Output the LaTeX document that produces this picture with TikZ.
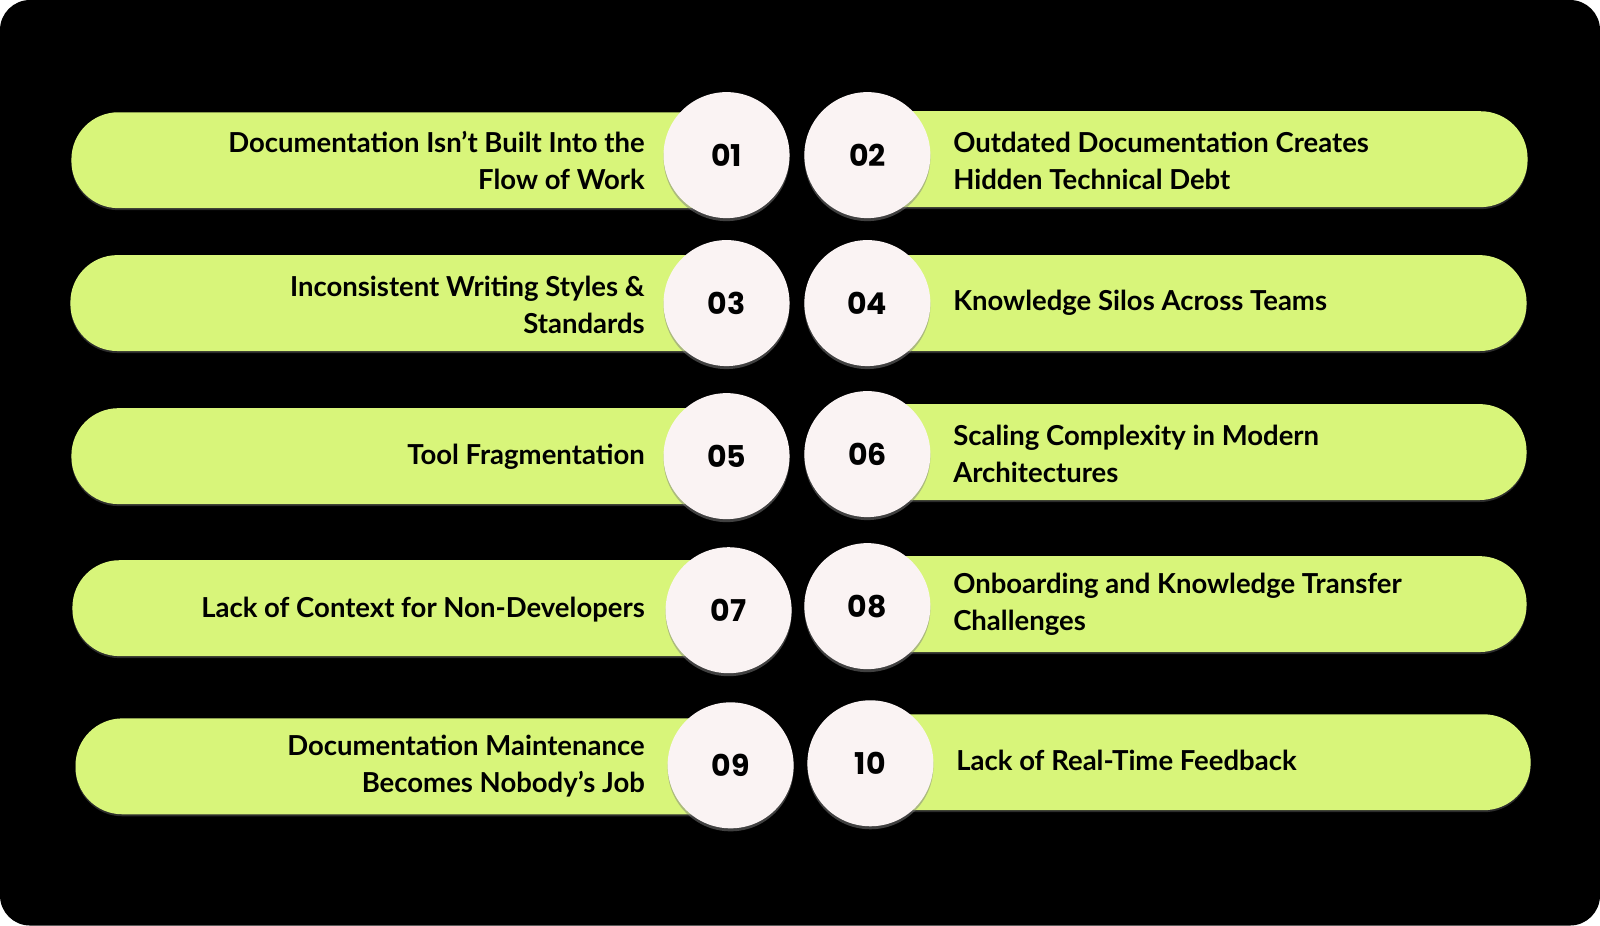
\documentclass[tikz,border=0pt]{standalone}
\usepackage{fontspec}
\setmainfont{Lato}
\newfontfamily\numfont{Poppins}
\usetikzlibrary{shadows}
\definecolor{pill}{HTML}{D8F57A}
\definecolor{disc}{HTML}{FAF3F3}
\tikzset{
 pillL/.style={fill=pill, rounded corners=47pt, drop shadow={shadow xshift=0pt,shadow yshift=-2pt,opacity=.35}},
 numc/.style={circle, fill=disc, minimum size=126pt, inner sep=0pt, font=\numfont\fontsize{30}{30}\selectfont\bfseries, drop shadow={shadow xshift=0pt,shadow yshift=-3pt,opacity=.5,fill=gray}},
 ltxt/.style={anchor=east, align=right, font=\bfseries\fontsize{27.5}{37}\selectfont, inner sep=0pt},
 rtxt/.style={anchor=west, align=left, font=\bfseries\fontsize{27.5}{37}\selectfont, inner sep=0pt},
}
\begin{document}
\begin{tikzpicture}[x=1.0204pt,y=-1.0204pt]
\useasboundingbox (0,0) rectangle (1568,907);
\fill[black, rounded corners=30pt] (0,0) rectangle (1568,907);
% pills
\foreach \y/\ya/\lx/\rx in {157/156/70/1497, 297/297/69/1496, 447/443/70/1496, 596/592/71/1496, 751/747/74/1500}{
  \path[pillL] (\lx,\y-47) rectangle (740,\y+47);
  \path[pillL] (820,\ya-47) rectangle (\rx,\ya+47);
}
\node[numc] (c1) at (712,152) {01};
\node[numc] (c2) at (850,152) {02};
\node[numc] (c3) at (712,297) {03};
\node[numc] (c4) at (850,297) {04};
\node[numc] (c5) at (712,447) {05};
\node[numc] (c6) at (850,445) {06};
\node[numc] (c7) at (714,598) {07};
\node[numc] (c8) at (850,594) {08};
\node[numc] (c9) at (716,750) {09};
\node[numc] (c10) at (853,748) {10};
\node[ltxt] (t1) at (632,157) {Documentation Isn’t Built Into the\\Flow of Work};
\node[rtxt] (t2) at (934,158) {Outdated Documentation Creates\\Hidden Technical Debt};
\node[ltxt] (t3) at (632,299) {Inconsistent Writing Styles \&\\Standards};
\node[rtxt] (t4) at (934,297) {Knowledge Silos Across Teams};
\node[ltxt] (t5) at (632,448) {Tool Fragmentation};
\node[rtxt] (t6) at (934,445) {Scaling Complexity in Modern\\Architectures};
\node[ltxt] (t7) at (632,597) {Lack of Context for Non-Developers};
\node[rtxt] (t8) at (934,592) {Onboarding and Knowledge Transfer\\Challenges};
\node[ltxt] (t9) at (632,751) {Documentation Maintenance\\Becomes Nobody’s Job};
\node[rtxt] (t10) at (937,745) {Lack of Real-Time Feedback};
\end{tikzpicture}
\end{document}
